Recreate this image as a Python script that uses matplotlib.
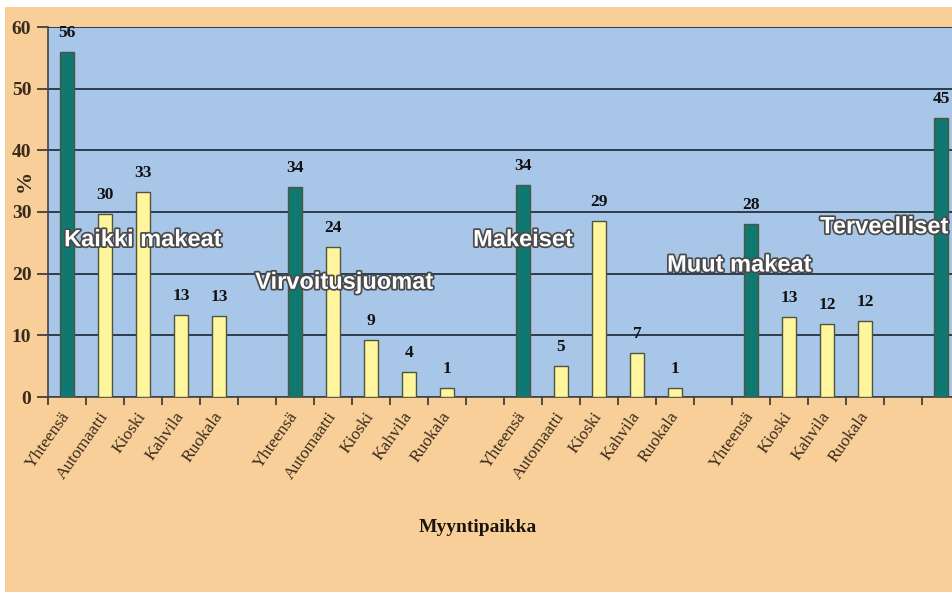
import matplotlib.pyplot as plt
import matplotlib.patheffects as pe
from matplotlib.patches import Rectangle

# data
groups = ["Kaikki makeat", "Virvoitusjuomat", "Makeiset", "Muut makeat", "Terveelliset"]
kaikki_places = ["Yhteensä", "Automaatti", "Kioski", "Kahvila", "Ruokala"]
kaikki_vals = [55.9, 29.6, 33.3, 13.3, 13.1]
virvoitus_places = ["Yhteensä", "Automaatti", "Kioski", "Kahvila", "Ruokala"]
virvoitus_vals = [34.0, 24.3, 9.3, 4.0, 1.4]
makeiset_places = ["Yhteensä", "Automaatti", "Kioski", "Kahvila", "Ruokala"]
makeiset_vals = [34.4, 5.0, 28.6, 7.1, 1.4]
muut_places = ["Yhteensä", "Kioski", "Kahvila", "Ruokala"]
muut_vals = [28.1, 12.9, 11.8, 12.3]
terveel_places = ["Yhteensä"]
terveel_vals = [45.2]
# the last group's tick label is cut away in the original
shown_last = [True, True, True, True, False]

all_places = [kaikki_places, virvoitus_places, makeiset_places, muut_places, terveel_places]
all_vals = [kaikki_vals, virvoitus_vals, makeiset_vals, muut_vals, terveel_vals]

# where the group names sit (x in slot units, y in %)
group_label_pos = [(2.0, 25.5), (7.3, 18.6), (12.0, 25.5), (17.7, 21.4), (21.5, 27.6)]

serif = "Liberation Serif"
brown = "#3a2a1c"
teal = "#0f7870"
yellow = "#fff59c"

fig = plt.figure(figsize=(9.52, 5.92), dpi=100)
fig.patch.set_facecolor("white")
fig.patches.append(Rectangle((5 / 952, 0), 1, 1 - 7 / 592, transform=fig.transFigure,
                             facecolor="#f8cf98", edgecolor="none", zorder=-10))

ax = fig.add_axes([48 / 952, 1 - 397 / 592, 1 - 48 / 952, (397 - 27) / 592])
ax.set_facecolor("#a8c7e8")

xs, labels, heights, colors = [], [], [], []
pos = 0
for places, vals, show in zip(all_places, all_vals, shown_last):
    for p, v in zip(places, vals):
        xs.append(pos)
        labels.append(p if show else "")
        heights.append(v)
        colors.append(teal if p == "Yhteensä" else yellow)
        pos += 1
    pos += 1  # empty slot between groups

ax.bar(xs, heights, width=0.38, color=colors, edgecolor="#4d5540", linewidth=1.0, zorder=3)
for x, h in zip(xs, heights):
    ax.annotate(f"{h:.0f}", (x, h), xytext=(0, 8), textcoords="offset points",
                ha="center", va="bottom", fontsize=12.5, fontweight="bold",
                family=serif, color="#111111", zorder=5)

for name, (gx, gy) in zip(groups, group_label_pos):
    ax.text(gx, gy, name, ha="center", va="center", fontsize=17, fontweight="bold",
            family="Liberation Sans", color="white", zorder=6, clip_on=True,
            path_effects=[pe.withStroke(linewidth=2.5, foreground="#4a4a4a")])

ax.set_xlim(-0.5, 23.29)
ax.set_ylim(0, 60)
ax.set_yticks(range(0, 61, 10))
ax.yaxis.grid(True, color="#2d3d4c", linewidth=1.4, zorder=1)
ax.set_axisbelow(True)

ax.set_xticks(xs)
ax.set_xticklabels(labels, rotation=55, ha="right", va="center", rotation_mode="anchor",
                   fontsize=12.5, family=serif, color=brown)
ax.set_xticks([b - 0.5 for b in range(0, 24)], minor=True)
ax.tick_params(axis="x", which="major", length=0, pad=12)
ax.tick_params(axis="x", which="minor", length=6, color="#333333", width=1.2)
ax.tick_params(axis="y", length=8, color="#333333", width=1.2, pad=4)
for t in ax.get_yticklabels():
    t.set_fontsize(14)
    t.set_fontweight("bold")
    t.set_family(serif)
    t.set_color(brown)

for s in ["top", "right"]:
    ax.spines[s].set_visible(False)
for s in ["left", "bottom"]:
    ax.spines[s].set_color("#444444")
    ax.spines[s].set_linewidth(1.2)

fig.text(25 / 952, 1 - 181 / 592, "%", rotation=90, ha="center", va="center",
         fontsize=16, fontweight="bold", family=serif, color=brown)
fig.text(478 / 952, 1 - 527 / 592, "Myyntipaikka", ha="center", va="center",
         fontsize=14, fontweight="bold", family=serif, color="#1a1410")

fig.savefig("out.png", dpi=100)
